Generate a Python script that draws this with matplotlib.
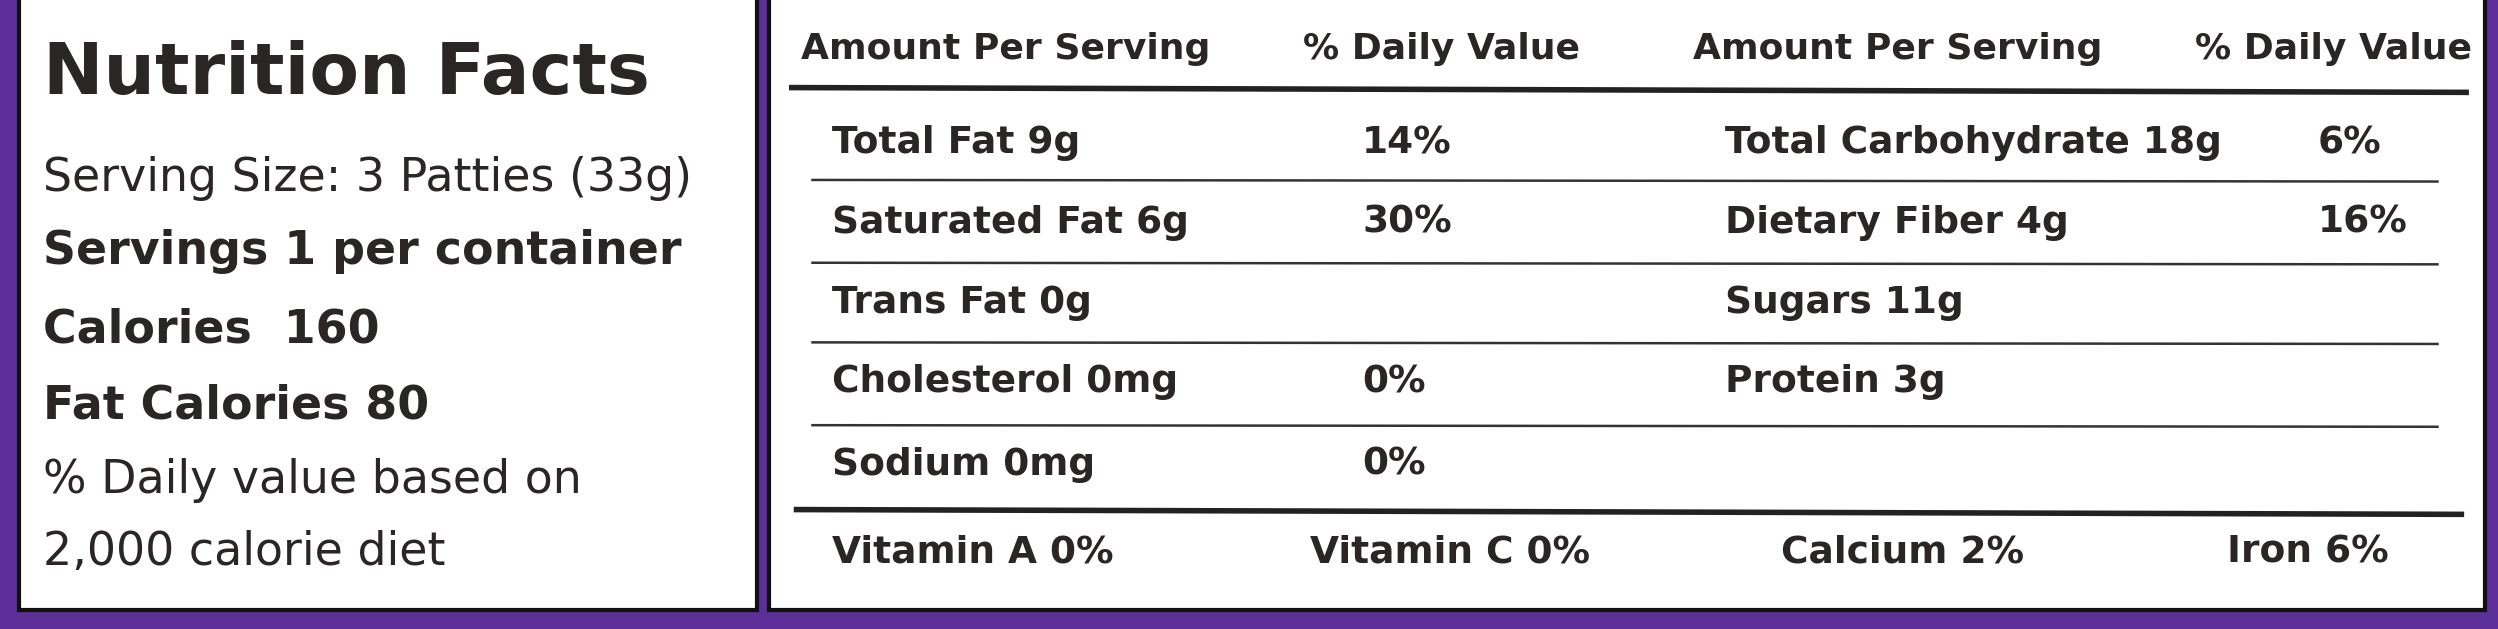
import matplotlib
matplotlib.use("Agg")
import matplotlib.pyplot as plt
from matplotlib.patches import Rectangle

left_lines = ["Nutrition Facts", "Serving Size: 3 Patties (33g)", "Servings 1 per container",
              "Calories  160", "Fat Calories 80", "% Daily value based on", "2,000 calorie diet"]
left_bold = [True, False, True, True, True, False, False]
headers = ["Amount Per Serving", "% Daily Value", "Amount Per Serving", "% Daily Value"]
left_nutrients = ["Total Fat 9g", "Saturated Fat 6g", "Trans Fat 0g", "Cholesterol 0mg", "Sodium 0mg"]
left_dv = ["14%", "30%", "", "0%", "0%"]
right_nutrients = ["Total Carbohydrate 18g", "Dietary Fiber 4g", "Sugars 11g", "Protein 3g", ""]
right_dv = ["6%", "16%", "", "", ""]
vitamins = ["Vitamin A 0%", "Vitamin C 0%", "Calcium 2%", "Iron 6%"]

FAM = ["Liberation Sans Narrow", "DejaVu Sans Condensed", "DejaVu Sans"]
INK = "#2b2626"

fig = plt.figure(figsize=(24.98, 6.29), dpi=100)
ax = fig.add_axes([0, 0, 1, 1])
ax.set_xlim(0, 1568); ax.set_ylim(395, 0); ax.axis("off")
fig.patch.set_facecolor("#5b2e98")
ax.add_patch(Rectangle((0, 0), 1568, 395, color="#5b2e98"))
ax.add_patch(Rectangle((12, -5), 463, 388, facecolor="white", edgecolor="#111", lw=3))
ax.add_patch(Rectangle((483, -5), 1077, 388, facecolor="white", edgecolor="#111", lw=3))

ly = [47, 112, 158, 207, 255, 302, 347]
for t, b, y in zip(left_lines, left_bold, ly):
    size = 52 if y == 47 else 33
    ax.text(27, y, t, family=FAM, fontsize=size, fontweight="bold" if b else "normal",
            color=INK, va="center", ha="left")

hx = [503, 818, 1063, 1378]
for t, x in zip(headers, hx):
    ax.text(x, 31, t, family=FAM, fontsize=26, fontweight="bold", color=INK, va="center")
ax.plot([497, 1548], [55, 58], color="#222", lw=4)
ry = [90, 140, 190, 240, 292]
for i, y in enumerate(ry):
    ax.text(522, y, left_nutrients[i], family=FAM, fontsize=27, fontweight="bold", color=INK, va="center")
    ax.text(855, y, left_dv[i], family=FAM, fontsize=27, fontweight="bold", color=INK, va="center")
    ax.text(1083, y, right_nutrients[i], family=FAM, fontsize=27, fontweight="bold", color=INK, va="center")
    ax.text(1455, y, right_dv[i], family=FAM, fontsize=27, fontweight="bold", color=INK, va="center")
for y in [113, 165, 215, 267]:
    ax.plot([510, 1530], [y, y + 1], color="#333", lw=1.8)
ax.plot([500, 1545], [320, 323], color="#222", lw=4)
for t, x in zip(vitamins, [522, 822, 1118, 1398]):
    ax.text(x, 347, t, family=FAM, fontsize=27, fontweight="bold", color=INK, va="center")

fig.savefig("out.png", dpi=100)
